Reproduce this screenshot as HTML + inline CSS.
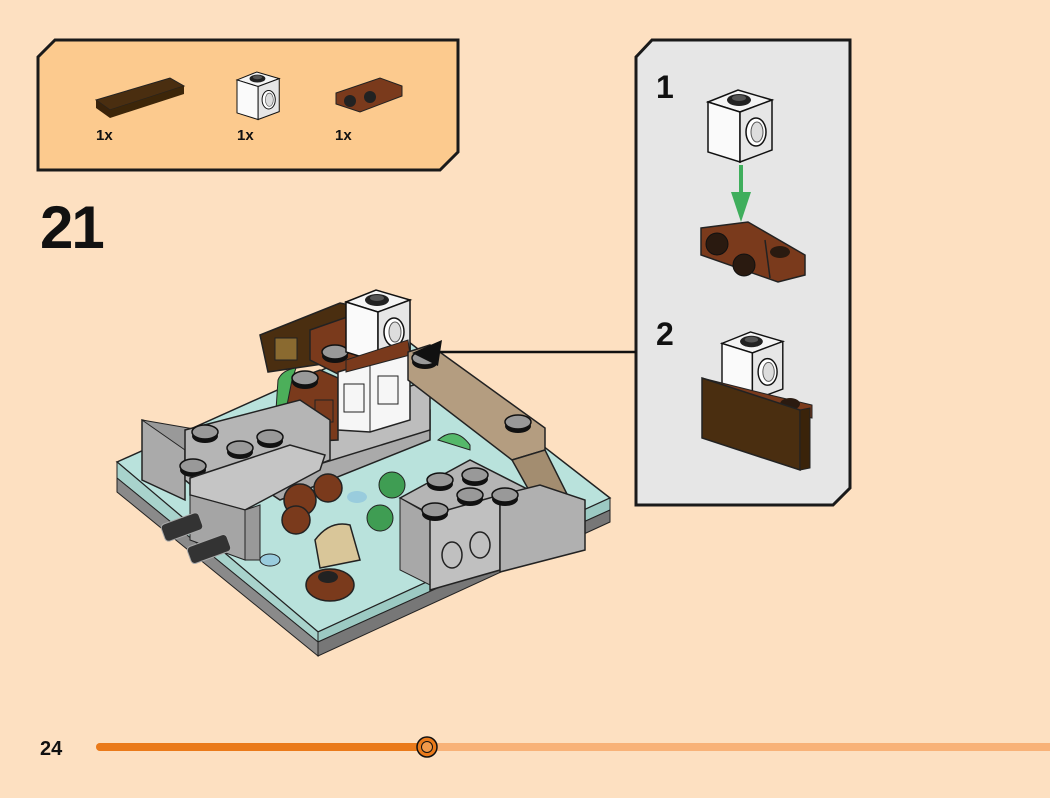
<!DOCTYPE html>
<html><head><meta charset="utf-8"><style>
html,body{margin:0;padding:0;background:#fde0c1;}
body{width:1050px;height:793px;overflow:hidden;font-family:"Liberation Sans",sans-serif;}
</style></head><body>
<svg width="1050" height="793" viewBox="0 0 1050 793" xmlns="http://www.w3.org/2000/svg" font-family="Liberation Sans, sans-serif">
<defs>
<g id="wb">
<path d="M0,12 L30,0 L64,10 L32,22 Z" fill="#f4f4f4" stroke="#111" stroke-width="1.5"/>
<path d="M0,12 L32,22 L32,72 L0,62 Z" fill="#fafafa" stroke="#111" stroke-width="1.5"/>
<path d="M32,22 L64,10 L64,60 L32,72 Z" fill="#e6e6e6" stroke="#111" stroke-width="1.5"/>
<ellipse cx="31" cy="10" rx="12" ry="6" fill="#222"/>
<ellipse cx="31" cy="8" rx="7" ry="3" fill="#555"/>
<ellipse cx="48" cy="42" rx="10" ry="14" fill="#fff" stroke="#111" stroke-width="1.5"/>
<ellipse cx="49" cy="42" rx="6" ry="10" fill="#ddd" stroke="#555"/>
</g>
<g id="stud"><ellipse cx="0" cy="4" rx="13" ry="7" fill="#111"/><ellipse cx="0" cy="0" rx="13" ry="7" fill="#999" stroke="#111" stroke-width="1.5"/></g>
</defs>

<!-- parts box -->
<path d="M55,40 L458,40 L458,152 L440,170 L38,170 L38,57 Z" fill="#fcca8e" stroke="#1a1a1a" stroke-width="3"/>
<path d="M96,100 L170,78 L184,86 L110,110 Z" fill="#4a2e10" stroke="#222"/>
<path d="M96,100 L110,110 L110,118 L96,108 Z" fill="#3a230a"/>
<path d="M110,110 L184,86 L184,94 L110,118 Z" fill="#3d2609"/>
<g transform="translate(237,72) scale(0.66)"><use href="#wb"/></g>
<path d="M336,93 L380,78 L402,86 L402,96 L360,112 L336,104 Z" fill="#7a3a1c" stroke="#222"/>
<circle cx="350" cy="101" r="6" fill="#222"/><circle cx="370" cy="97" r="6" fill="#222"/>
<text x="96" y="140" font-size="15" font-weight="bold" fill="#111">1x</text>
<text x="237" y="140" font-size="15" font-weight="bold" fill="#111">1x</text>
<text x="335" y="140" font-size="15" font-weight="bold" fill="#111">1x</text>

<text x="40" y="248" font-size="60" font-weight="bold" fill="#111" letter-spacing="-2">21</text>

<!-- right panel -->
<path d="M652,40 L850,40 L850,488 L833,505 L636,505 L636,57 Z" fill="#e6e6e6" stroke="#1a1a1a" stroke-width="3"/>
<text x="656" y="98" font-size="32" font-weight="bold" fill="#111">1</text>
<text x="656" y="345" font-size="32" font-weight="bold" fill="#111">2</text>
<use href="#wb" transform="translate(708,90)"/>
<line x1="741" y1="165" x2="741" y2="205" stroke="#3fae5c" stroke-width="4"/>
<path d="M731,192 L751,192 L741,222 Z" fill="#3fae5c"/>
<path d="M701,228 L748,222 L805,255 L805,275 L778,282 L701,255 Z" fill="#7a3a1c" stroke="#222" stroke-width="1.5"/>
<path d="M765,240 L770,278" stroke="#222" stroke-width="1.5"/>
<circle cx="717" cy="244" r="11" fill="#2a1a10" stroke="#111"/>
<circle cx="744" cy="265" r="11" fill="#2a1a10" stroke="#111"/>
<ellipse cx="780" cy="252" rx="10" ry="6" fill="#2a1a10"/>
<use href="#wb" transform="translate(722,332) scale(0.95)"/>
<path d="M702,378 L770,395 L812,405 L812,418 L780,412 Z" fill="#7a3a1c" stroke="#222"/>
<ellipse cx="790" cy="404" rx="10" ry="6" fill="#2a1a10"/>
<path d="M702,378 L800,410 L800,470 L702,438 Z" fill="#4a2e10" stroke="#222" stroke-width="1.5"/>
<path d="M800,410 L810,408 L810,468 L800,470 Z" fill="#3a230a" stroke="#222"/>

<!-- model base -->
<path d="M117,462 L400,335 L610,498 L318,632 Z" fill="#b9e2dc" stroke="#222" stroke-width="1.5"/>
<path d="M117,462 L318,632 L318,642 L117,478 Z" fill="#a8d3cc" stroke="#222"/>
<path d="M318,632 L610,498 L610,510 L318,642 Z" fill="#9ccac3" stroke="#222"/>
<path d="M117,478 L318,642 L318,656 L117,492 Z" fill="#8a8a8a" stroke="#222"/>
<path d="M318,642 L610,510 L610,522 L318,656 Z" fill="#777" stroke="#222"/>
<path d="M190,440 L330,390 L430,410 L430,440 L280,500 Z" fill="#aaa" stroke="#222" stroke-width="1.5"/>
<path d="M300,420 L430,380 L430,430 L300,470 Z" fill="#bdbdbd" stroke="#222" stroke-width="1.5"/>
<path d="M260,335 L340,303 L350,305 L350,360 L268,372 Z" fill="#4a2e10" stroke="#222" stroke-width="1.5"/>
<rect x="275" y="338" width="22" height="22" fill="#8a6a30" stroke="#222"/>
<path d="M310,330 L350,316 L410,345 L410,365 L360,385 L310,360 Z" fill="#7a3a1c" stroke="#222" stroke-width="1.5"/>
<path d="M280,385 L320,370 L338,378 L338,440 L296,442 L280,432 Z" fill="#7a3a1c" stroke="#222" stroke-width="1.5"/>
<path d="M278,380 Q282,370 296,368 L292,380 L284,420 L276,410 Z" fill="#4caf5a" stroke="#222"/>
<use href="#stud" transform="translate(335,352)"/>
<use href="#stud" transform="translate(305,378)"/>
<rect x="315" y="400" width="18" height="22" fill="none" stroke="#222"/>
<use href="#wb" transform="translate(346,290) scale(1)"/>
<path d="M338,372 L370,362 L410,352 L410,420 L370,432 L338,430 Z" fill="#f6f6f6" stroke="#222" stroke-width="1.5"/>
<line x1="370" y1="362" x2="370" y2="432" stroke="#222"/>
<rect x="344" y="384" width="20" height="28" fill="none" stroke="#222"/>
<rect x="378" y="376" width="20" height="28" fill="none" stroke="#222"/>
<path d="M346,360 L408,340 L410,355 L346,372 Z" fill="#7a3a1c" stroke="#222"/>
<path d="M408,352 L430,345 L545,428 L545,450 L512,460 L408,380 Z" fill="#b49d80" stroke="#222" stroke-width="1.5"/>
<path d="M512,460 L545,450 L570,500 L540,510 Z" fill="#a38d70" stroke="#222" stroke-width="1.5"/>
<use href="#stud" transform="translate(425,358)"/>
<use href="#stud" transform="translate(518,422)"/>
<path d="M142,420 L185,432 L185,500 L142,480 Z" fill="#aaa" stroke="#222" stroke-width="1.5"/>
<path d="M142,420 L200,430 L185,450 Z" fill="#999" stroke="#222"/>
<path d="M185,430 L300,400 L330,420 L330,460 L215,505 L185,480 Z" fill="#b5b5b5" stroke="#222" stroke-width="1.5"/>
<use href="#stud" transform="translate(205,432)"/>
<use href="#stud" transform="translate(240,448)"/>
<use href="#stud" transform="translate(270,437)"/>
<use href="#stud" transform="translate(193,466)"/>
<path d="M190,478 L290,445 L325,455 L320,470 L245,510 L190,495 Z" fill="#c5c5c5" stroke="#222" stroke-width="1.5"/>
<path d="M190,495 L245,510 L245,560 L190,540 Z" fill="#a5a5a5" stroke="#222"/>
<path d="M245,510 L260,505 L260,560 L245,560 Z" fill="#999" stroke="#222"/>
<rect x="162" y="518" width="40" height="18" rx="4" fill="#333" stroke="#aaa" transform="rotate(-20 182 527)"/>
<rect x="188" y="540" width="42" height="18" rx="4" fill="#333" stroke="#aaa" transform="rotate(-20 209 549)"/>
<circle cx="300" cy="500" r="16" fill="#7a3a1c" stroke="#222" stroke-width="1.5"/>
<circle cx="328" cy="488" r="14" fill="#7a3a1c" stroke="#222" stroke-width="1.5"/>
<circle cx="296" cy="520" r="14" fill="#7a3a1c" stroke="#222" stroke-width="1.5"/>
<path d="M315,540 Q330,520 350,525 L360,560 L320,568 Z" fill="#d9c699" stroke="#222" stroke-width="1.5"/>
<ellipse cx="330" cy="585" rx="24" ry="16" fill="#7a3a1c" stroke="#222" stroke-width="1.5"/>
<ellipse cx="328" cy="577" rx="10" ry="6" fill="#222"/>
<circle cx="392" cy="485" r="13" fill="#3f9d53" stroke="#222"/>
<circle cx="380" cy="518" r="13" fill="#3f9d53" stroke="#222"/>
<path d="M438,440 Q455,425 470,445 L470,450 Z" fill="#55b86a" stroke="#222"/>
<ellipse cx="357" cy="497" rx="10" ry="6" fill="#9cd"/>
<ellipse cx="270" cy="560" rx="10" ry="6" fill="#9cd" stroke="#222"/>
<path d="M400,498 L470,460 L545,498 L460,530 Z" fill="#b5b5b5" stroke="#222" stroke-width="1.5"/>
<path d="M400,498 L430,515 L430,585 L400,570 Z" fill="#a8a8a8" stroke="#222"/>
<path d="M430,515 L500,495 L500,570 L430,590 Z" fill="#c0c0c0" stroke="#222" stroke-width="1.5"/>
<path d="M500,495 L540,485 L585,500 L585,550 L500,572 Z" fill="#b0b0b0" stroke="#222" stroke-width="1.5"/>
<ellipse cx="452" cy="555" rx="10" ry="13" fill="none" stroke="#222" stroke-width="1.5"/>
<ellipse cx="480" cy="545" rx="10" ry="13" fill="none" stroke="#222" stroke-width="1.5"/>
<use href="#stud" transform="translate(435,510)"/>
<use href="#stud" transform="translate(470,495)"/>
<use href="#stud" transform="translate(440,480)"/>
<use href="#stud" transform="translate(475,475)"/>
<use href="#stud" transform="translate(505,495)"/>

<!-- arrow (on top) -->
<line x1="636" y1="352" x2="440" y2="352" stroke="#111" stroke-width="2.5"/>
<path d="M412,353 L442,340 L438,366 Z" fill="#111"/>

<!-- footer -->
<text x="40" y="755" font-size="20" font-weight="bold" fill="#111">24</text>
<line x1="100" y1="747" x2="1050" y2="747" stroke="#f8b278" stroke-width="8" stroke-linecap="round"/>
<line x1="100" y1="747" x2="427" y2="747" stroke="#ea7a1a" stroke-width="8" stroke-linecap="round"/>
<circle cx="427" cy="747" r="10" fill="#ea7a1a" stroke="#111" stroke-width="1.5"/>
<circle cx="427" cy="747" r="5.5" fill="#f29a4a" stroke="#111" stroke-width="1"/>
</svg>
</body></html>
